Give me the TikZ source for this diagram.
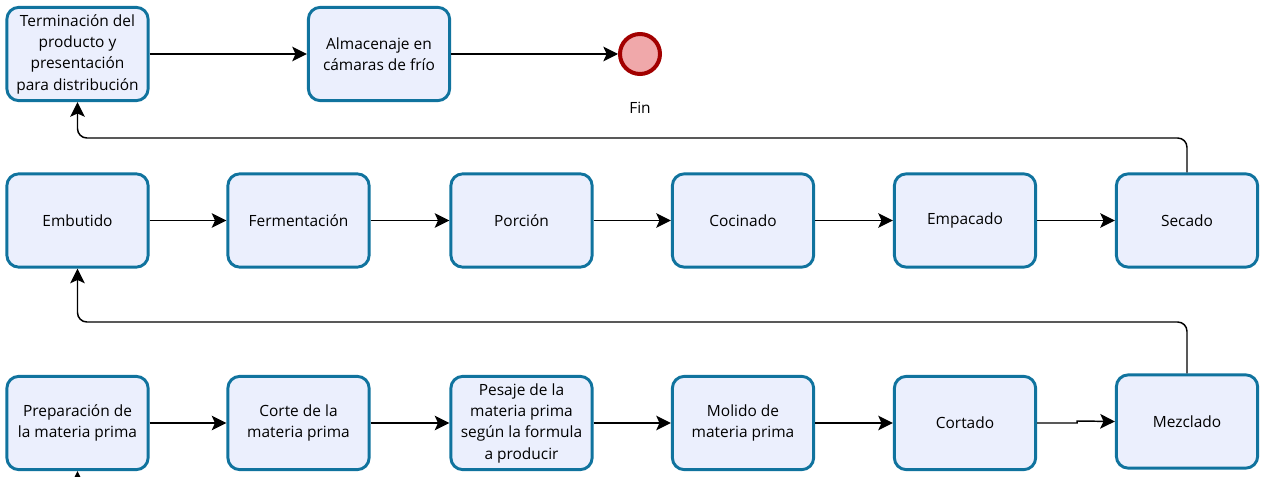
\documentclass[tikz,border=0pt]{standalone}
\usepackage{fontspec}
\setmainfont{Open Sans}
\usetikzlibrary{arrows.meta}
\definecolor{boxfill}{HTML}{EBEFFD}
\definecolor{boxline}{HTML}{10739E}
\definecolor{endfill}{HTML}{F0A8AA}
\definecolor{endline}{HTML}{A20000}
\begin{document}
\begin{tikzpicture}[x=0.75pt,y=-0.75pt,
  proc/.style={draw=boxline,fill=boxfill,line width=2.2pt,rounded corners=9pt,
    minimum width=106pt,minimum height=70pt,inner sep=1pt,align=center,
    font=\fontsize{11.6}{16}\selectfont,text=black},
  flow/.style={line width=1.1pt,-{Stealth[length=11pt,width=11pt,inset=2.5pt]}},
  loop/.style={line width=1.1pt,rounded corners=7pt,-{Stealth[length=11pt,width=11pt,inset=2.5pt]}}]
\useasboundingbox (0,0) rectangle (1264,477);
% row 1
\node[proc] (term) at (77.5,54) {Terminación del\\producto y\\presentación\\para distribución};
\node[proc] (alm) at (379,54) {Almacenaje en\\cámaras de frío};
\node[circle,draw=endline,fill=endfill,line width=3pt,minimum size=30pt,inner sep=0pt] (fin) at (640,54) {};
\node[font=\fontsize{11.6}{12}\selectfont,text=black] (finl) at (640,108) {Fin};
% row 2
\node[proc] (emb) at (77.5,220.5) {Embutido};
\node[proc] (fer) at (298.5,220.5) {Fermentación};
\node[proc] (por) at (521.5,220.5) {Porción};
\node[proc] (coc) at (743,220.5) {Cocinado};
\node[proc] (emp) at (965,220.5) {Empacado};
\node[proc] (sec) at (1187,220.5) {Secado};
% row 3
\node[proc] (pre) at (77.5,423) {Preparación de\\la materia prima};
\node[proc] (cor) at (298.5,423) {Corte de la\\materia prima};
\node[proc] (pes) at (521.5,423) {Pesaje de la\\materia prima\\según la formula\\a producir};
\node[proc] (mol) at (743,423) {Molido de\\materia prima};
\node[proc] (cdo) at (965,423) {Cortado};
\node[proc] (mez) at (1187,421.5) {Mezclado};
% connectors
\draw[flow] (term) -- (alm);
\draw[flow] (alm) -- (fin);
\draw[flow] (emb) -- (fer);
\draw[flow] (fer) -- (por);
\draw[flow] (por) -- (coc);
\draw[flow] (coc) -- (emp);
\draw[flow] (emp) -- (sec);
\draw[flow] (pre) -- (cor);
\draw[flow] (cor) -- (pes);
\draw[flow] (pes) -- (mol);
\draw[flow] (mol) -- (cdo);
\draw[flow] (cdo.east) -- ++(40,0) -- ++(0,-2) -- (mez.west);
\draw[loop] (sec.north) |- (77.5,138) -- (term.south);
\draw[loop] (mez.north) |- (77.5,322) -- (emb.south);
\coordinate (below) at (77.5,500);
\draw[flow] (below) -- (pre.south);
\end{tikzpicture}
\end{document}
